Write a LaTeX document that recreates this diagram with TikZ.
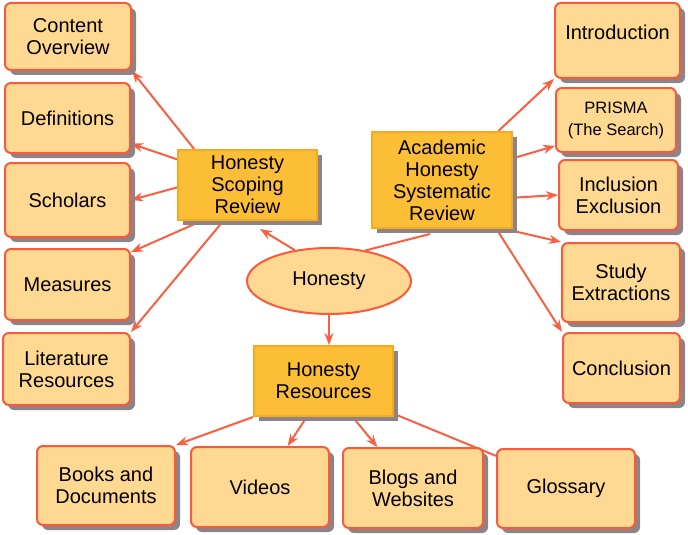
\documentclass[tikz,border=0pt]{standalone}
\usepackage{fontspec}
\setmainfont{Liberation Sans}
\usetikzlibrary{shapes.geometric,shadows,calc,backgrounds,arrows.meta}
\definecolor{leaffill}{RGB}{255,216,145}
\definecolor{leafborder}{RGB}{250,90,60}
\definecolor{hubfill}{RGB}{253,190,55}
\definecolor{hubborder}{RGB}{250,168,30}
\definecolor{connred}{RGB}{250,95,65}
\definecolor{shadowgray}{RGB}{140,132,134}
\tikzset{
  boxbase/.style={line width=2pt, align=center, inner sep=0pt,
    font=\fontsize{20}{22}\selectfont},
  leaf/.style={boxbase, draw=leafborder, fill=leaffill, rounded corners=6pt,
    drop shadow={shadow xshift=5pt, shadow yshift=-5pt, fill=shadowgray, opacity=1}},
  hub/.style={boxbase, draw=hubborder, fill=hubfill,
    drop shadow={shadow xshift=5pt, shadow yshift=-5pt, fill=shadowgray, opacity=1}},
  oval/.style={boxbase, ellipse, draw=leafborder, fill=leaffill},
  conn/.style={draw=connred, line width=2pt},
  arr/.style={conn, -{Stealth[length=12pt,width=9pt]}},
}
\begin{document}
\begin{tikzpicture}[x=1pt,y=-1pt]
\useasboundingbox (0,0) rectangle (688,535);
% left column
\node[leaf, minimum width=126pt, minimum height=67pt] (co) at (68,36.5) {Content\\Overview};
\node[leaf, minimum width=125pt, minimum height=70pt] (defs) at (67.5,118) {Definitions};
\node[leaf, minimum width=125pt, minimum height=74pt] (schol) at (67.5,200) {Scholars};
\node[leaf, minimum width=125pt, minimum height=71pt] (meas) at (67.5,284.5) {Measures};
\node[leaf, minimum width=127pt, minimum height=72pt] (lit) at (66.5,369) {Literature\\Resources};
% hubs
\node[hub, minimum width=139pt, minimum height=70pt] (scop) at (247.5,185) {Honesty\\Scoping\\Review};
\node[oval, minimum width=164pt, minimum height=66pt] (hon) at (329,281) {Honesty};
\node[hub, minimum width=140pt, minimum height=96pt] (acad) at (442,180) {Academic\\Honesty\\Systematic\\Review};
\node[hub, minimum width=139pt, minimum height=70pt] (res) at (323.5,381) {Honesty\\Resources};
% right column
\node[leaf, minimum width=125pt, minimum height=75pt] (intro) at (617.5,40.5) {\raisebox{17pt}{Introduction}};
\node[leaf, minimum width=120pt, minimum height=64pt, font=\fontsize{16.5}{22}\selectfont] (prisma) at (616,120) {PRISMA\\(The Search)};
\node[leaf, minimum width=119pt, minimum height=70pt] (incl) at (618.5,195) {Inclusion\\Exclusion};
\node[leaf, minimum width=118pt, minimum height=79pt] (study) at (621,282.5) {Study\\Extractions};
\node[leaf, minimum width=117pt, minimum height=70pt] (concl) at (621.5,368) {Conclusion};
% bottom row
\node[leaf, minimum width=138pt, minimum height=79pt] (books) at (106,485.5) {Books and\\Documents};
\node[leaf, minimum width=138pt, minimum height=80pt] (videos) at (260,487) {Videos};
\node[leaf, minimum width=140pt, minimum height=80pt] (blogs) at (413,488) {Blogs and\\Websites};
\node[leaf, minimum width=138pt, minimum height=79pt] (glos) at (566,488.5) {Glossary};
% connectors
\begin{scope}[on background layer]
\draw[arr] (scop.146) -- (co.south east);
\draw[arr] (scop.160) -- (defs.338);
\draw[arr] (scop.182) -- (schol.east);
\draw[arr] (scop.218) -- (meas.27);
\draw[arr] (scop.236) -- (lit.north east);
\draw[arr] (hon.138) -- ($(scop.south)+(12.5,8)$);
\draw[conn] (hon.40) -- ($(acad.south)+(-12,5)$);
\draw[arr] (hon.south) -- (hon.south |- res.north);
\draw[arr] (acad.41) -- (intro.south west);
\draw[arr] (acad.17) -- (prisma.203);
\draw[arr] (acad.346) -- (incl.west);
\draw[arr] (acad.322) -- (study.north west);
\draw[arr] (acad.318) -- (concl.north west);
\draw[arr] (res.south west) -- (books.north east);
\draw[arr] (res.245) -- (videos.56);
\draw[arr] (res.309) -- (blogs.131);
\draw[conn] (res.335) -- (glos.155);
\end{scope}
\end{tikzpicture}
\end{document}
